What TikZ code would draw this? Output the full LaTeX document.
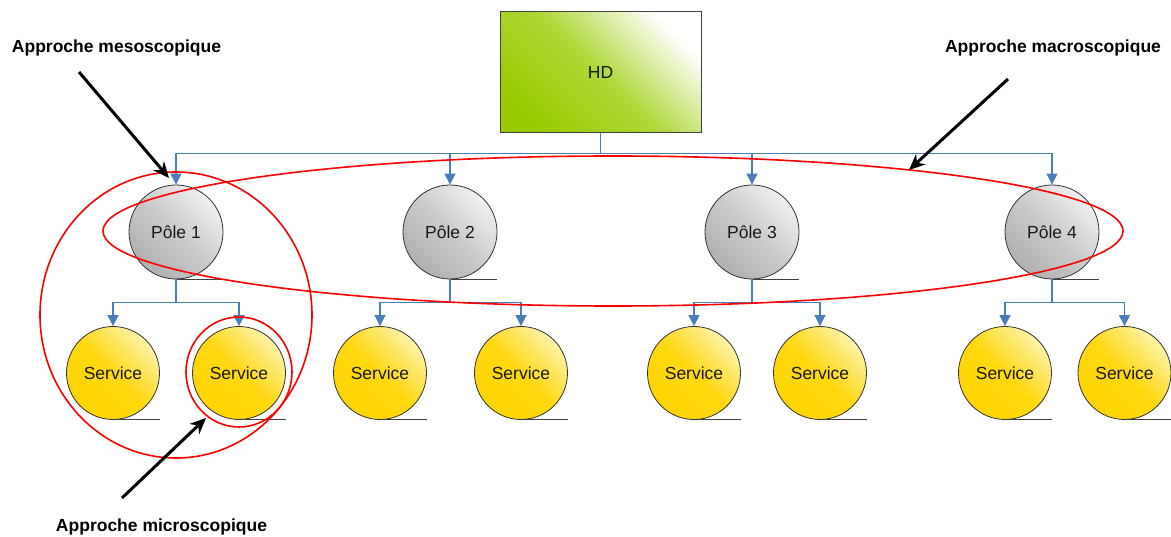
\documentclass[tikz,border=0pt]{standalone}
\usepackage{fontspec}
\setmainfont{Liberation Sans}
\usetikzlibrary{arrows.meta,calc}
\definecolor{connblue}{HTML}{4A7EBB}
\definecolor{hdgreen}{HTML}{99CC00}
\definecolor{gold}{HTML}{FFD500}
\definecolor{lightgold}{HTML}{FFF2A8}
\definecolor{darkgray2}{HTML}{B0B0B0}
\definecolor{midgray2}{HTML}{CACACA}
\definecolor{lightgray2}{HTML}{F0F0F0}
\tikzset{
  txt/.style={font=\fontsize{17.5}{20}\selectfont, text=black!90},
  hdbox/.style={txt, draw=black!75, line width=1pt, minimum width=201pt, minimum height=121pt, inner sep=0pt,
    shading=axis, bottom color=hdgreen, top color=white, middle color=hdgreen!78!white, shading angle=-45},
  polebox/.style={txt, circle, draw=black!80, line width=0.8pt, minimum size=94pt, inner sep=0pt,
    shading=axis, bottom color=darkgray2, top color=lightgray2, middle color=midgray2, shading angle=-45},
  servbox/.style={txt, circle, draw=black!80, line width=0.8pt, minimum size=93pt, inner sep=0pt,
    shading=axis, bottom color=gold, top color=lightgold, middle color=gold!90!lightgold, shading angle=-45},
  conn/.style={draw=connblue, line width=1.1pt, -{Triangle[width=11pt,length=11pt]}},
  uline/.style={draw=black!75, line width=0.8pt},
  zone/.style={draw=red, line width=1.6pt},
  bigarrow/.style={draw=black, line width=3pt, -{Stealth[length=16pt,width=14pt]}},
  lbl/.style={font=\bfseries\fontsize{17.5}{20}\selectfont, text=black}
}
\begin{document}
\begin{tikzpicture}[x=1pt,y=-1pt]
\useasboundingbox (0,0) rectangle (1171,537);
% boxes
\node[hdbox] (hd) at (600.5,72.5) {HD};
\node[polebox] (p1) at (176,232) {Pôle 1};
\node[polebox] (p2) at (450,232) {Pôle 2};
\node[polebox] (p3) at (752,232) {Pôle 3};
\node[polebox] (p4) at (1052,232) {Pôle 4};
\node[servbox] (s11) at (113,373) {Service};
\node[servbox] (s12) at (239,373) {Service};
\node[servbox] (s21) at (380,373) {Service};
\node[servbox] (s22) at (521,373) {Service};
\node[servbox] (s31) at (694,373) {Service};
\node[servbox] (s32) at (820,373) {Service};
\node[servbox] (s41) at (1005,373) {Service};
\node[servbox] (s42) at (1124.5,373) {Service};
% underlines
\foreach \n/\r in {p1/47,p2/47,p3/47,p4/47,s11/46.5,s12/46.5,s21/46.5,s22/46.5,s31/46.5,s32/46.5,s41/46.5,s42/46.5}
  \draw[uline] (\n.south) -- ++(\r,0);
% connectors HD -> poles
\foreach \p in {p1,p2,p3,p4}
  \draw[conn] (hd.south) -- ++(0,20) -| (\p.north);
% poles -> services
\foreach \p/\a/\b in {p1/s11/s12,p2/s21/s22,p3/s31/s32,p4/s41/s42}{
  \draw[conn] (\p.south) -- ++(0,23) -| (\a.north);
  \draw[conn] (\p.south) -- ++(0,23) -| (\b.north);
}
% red zones
\draw[zone] (613,231) ellipse [x radius=510pt, y radius=75pt];
\draw[zone] (176,315) ellipse [x radius=136pt, y radius=143pt];
\draw[zone] (239,372) ellipse [x radius=53pt, y radius=55pt];
% labels
\node[lbl] (lmeso) at (116.5,48) {Approche mesoscopique};
\node[lbl] (lmacro) at (1053,48) {Approche macroscopique};
\node[lbl] (lmicro) at (161.5,527) {Approche microscopique};
% arrows
\coordinate (ameso) at (79,72);
\coordinate (tmeso) at (169,178);
\coordinate (amacro) at (1008,79);
\coordinate (tmacro) at (909,170);
\coordinate (amicro) at (122,498);
\coordinate (tmicro) at (206,418);
\draw[bigarrow] (ameso) -- (tmeso);
\draw[bigarrow] (amacro) -- (tmacro);
\draw[bigarrow] (amicro) -- (tmicro);
\end{tikzpicture}
\end{document}
